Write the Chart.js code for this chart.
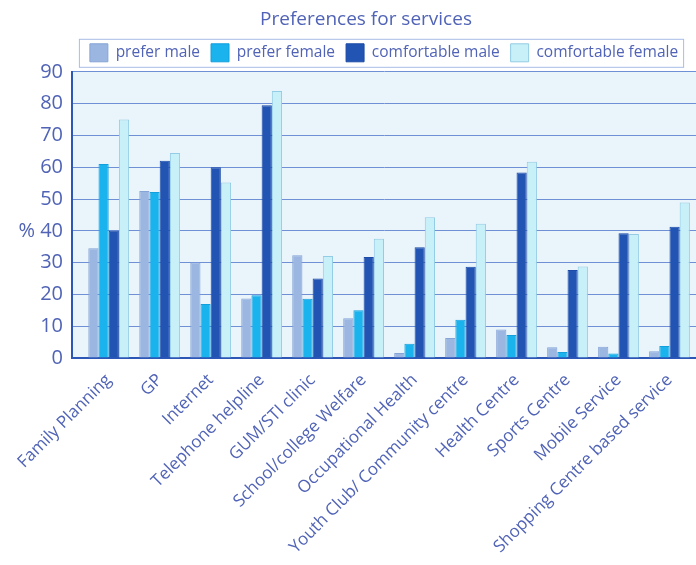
<!DOCTYPE html>
<html lang="en">
<head>
<meta charset="UTF-8" />
<title>Preferences for services</title>
<script src="https://cdn.jsdelivr.net/npm/chart.js"></script>
<style>
  body { margin: 0; background: #fff; }
</style>
</head>
<body>
<canvas id="chart" width="696" height="565"></canvas>
<script>
const categories = [
  'Family Planning', 'GP', 'Internet', 'Telephone helpline', 'GUM/STI clinic',
  'School/college Welfare', 'Occupational Health', 'Youth Club/ Community centre',
  'Health Centre', 'Sports Centre', 'Mobile Service', 'Shopping Centre based service'
];
const preferMale        = [34.5, 52.5, 30, 18.7, 32.3, 12.5, 1.6, 6.3, 9, 3.4, 3.5, 2.1];
const preferFemale      = [61, 52.2, 17, 19.7, 18.6, 15, 4.5, 12, 7.2, 1.9, 1.4, 3.8];
const comfortableMale   = [40, 62, 60, 79.5, 25, 31.8, 34.8, 28.7, 58.3, 27.7, 39.2, 41.3];
const comfortableFemale = [75, 64.5, 55.2, 84, 32.1, 37.5, 44.3, 42.2, 61.7, 28.8, 39, 48.9];
const yTicks = [0, 10, 20, 30, 40, 50, 60, 70, 80, 90];

const textBlue = '#5063b6';
const axisBlue = '#2d57b7';

Chart.defaults.font.family = '"Open Sans", sans-serif';
Chart.defaults.color = textBlue;

// bars sit on a linear x axis so the first group can stand off the y axis
const toPoints = vals => vals.map((y, x) => ({ x, y }));

const plotBackground = {
  id: 'plotBackground',
  beforeDraw(chart) {
    const { ctx, chartArea: a } = chart;
    ctx.save();
    ctx.fillStyle = '#e9f4fb';
    ctx.fillRect(a.left, a.top, a.right - a.left, a.bottom - a.top);
    ctx.restore();
  }
};

// y labels may use the space left of the narrow axis box ("%" label);
// the legend row is centred over the plot rather than the canvas
const layoutTweaks = {
  id: 'layoutTweaks',
  afterLayout(chart) {
    chart.scales.y.left = 0;
    chart.legend.left += 18;
    chart.legend.right += 18;
  }
};

const legendFrame = {
  id: 'legendFrame',
  afterDraw(chart) {
    const boxes = chart.legend.legendHitBoxes;
    if (!boxes || !boxes.length) return;
    const left = Math.min(...boxes.map(b => b.left)) - 11;
    const right = Math.max(...boxes.map(b => b.left + b.width)) + 5;
    const top = boxes[0].top - 5;
    const bottom = boxes[0].top + boxes[0].height + 5;
    const ctx = chart.ctx;
    ctx.save();
    ctx.strokeStyle = '#a8bce6';
    ctx.lineWidth = 1;
    ctx.strokeRect(left + 0.5, top + 0.5, right - left, bottom - top);
    ctx.restore();
  }
};

new Chart(document.getElementById('chart'), {
  type: 'bar',
  data: {
    datasets: [
      { label: 'prefer male', data: toPoints(preferMale),
        backgroundColor: '#9bb6e0', borderColor: '#86a4d6', borderWidth: 1 },
      { label: 'prefer female', data: toPoints(preferFemale),
        backgroundColor: '#1bb3ee', borderColor: '#139fdc', borderWidth: 1 },
      { label: 'comfortable male', data: toPoints(comfortableMale),
        backgroundColor: '#2254b4', borderColor: '#1c4aa6', borderWidth: 1 },
      { label: 'comfortable female', data: toPoints(comfortableFemale),
        backgroundColor: '#c7f0f8', borderColor: '#93cce4', borderWidth: 1 }
    ]
  },
  options: {
    responsive: false,
    animation: false,
    devicePixelRatio: 1,
    layout: { padding: { left: 36, top: 2, right: 0, bottom: 0 } },
    datasets: { bar: { categoryPercentage: 0.8, barPercentage: 1 } },
    plugins: {
      title: {
        display: true,
        text: 'Preferences for services',
        color: textBlue,
        font: { size: 19, weight: 'normal' },
        padding: { top: 6, bottom: 2 }
      },
      legend: {
        labels: { boxWidth: 18, boxHeight: 18, padding: 11, color: textBlue, font: { size: 15.5 } }
      },
      tooltip: { enabled: false }
    },
    scales: {
      x: {
        type: 'linear',
        min: -0.72,
        max: 11.52,
        offset: false,
        afterBuildTicks: s => { s.ticks = categories.map((_, i) => ({ value: i })); },
        afterFit: s => { s.height = 207; s.paddingLeft = 0; s.paddingRight = 0; },
        grid: { display: false, drawTicks: false },
        border: { color: axisBlue, width: 2 },
        ticks: {
          autoSkip: false, minRotation: 45, maxRotation: 45, padding: 12,
          color: textBlue, font: { size: 17 },
          callback: v => categories[v]
        }
      },
      y: {
        min: 0,
        max: 90,
        afterBuildTicks: s => { s.ticks = yTicks.map(v => ({ value: v })); },
        afterFit: s => { s.width = 36; },
        grid: { color: '#7090d6', drawTicks: false },
        border: { color: axisBlue, width: 2 },
        ticks: {
          padding: 9, color: textBlue, font: { size: 20 },
          callback: v => (v === 40 ? '% 40' : v)
        }
      }
    }
  },
  plugins: [plotBackground, layoutTweaks, legendFrame]
});
</script>
</body>
</html>
